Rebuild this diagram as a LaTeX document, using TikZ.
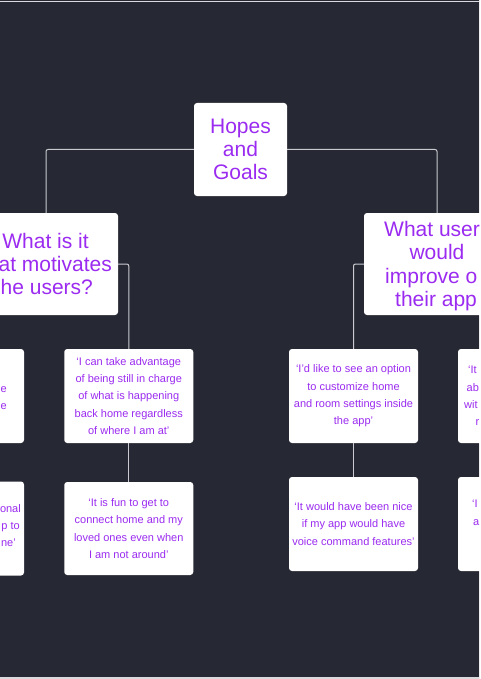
\documentclass[tikz,border=0pt]{standalone}
\usepackage{fontspec}
\setmainfont{Liberation Sans}
\usetikzlibrary{positioning}
\definecolor{bgdark}{HTML}{262833}
\definecolor{pur}{HTML}{9B2BF0}
\definecolor{linegray}{HTML}{CACAD0}
\begin{document}
\begin{tikzpicture}[x=1pt, y=-1pt,
  card/.style={fill=white, rounded corners=3pt, inner sep=0pt, align=center, text=pur},
  head/.style={card, font=\fontsize{21}{23}\selectfont},
  quote/.style={card, minimum width=129pt, minimum height=94pt, font=\fontsize{11}{17.3}\selectfont},
  bigfrag/.style={inner sep=0pt, text=pur, font=\fontsize{21}{23}\selectfont},
  frag/.style={inner sep=0pt, text=pur, font=\fontsize{11}{17.3}\selectfont},
  conn/.style={draw=linegray, line width=1pt, rounded corners=2pt}
]
\clip (0,0) rectangle (480,679);
\fill[bgdark] (0,0) rectangle (480,679);
\fill[linegray!70] (0,1.5) rectangle (480,2.5);
\fill[linegray!70] (0,676.5) rectangle (480,679);
\fill[linegray!35] (479.2,0) rectangle (480,679);
% ---- top ----
\node[head, minimum width=93pt, minimum height=93pt] (hopes) at (240.5,149.5) {Hopes\\and\\Goals};
% ---- questions (cut by the edges) ----
\node[head, minimum width=144pt, minimum height=102pt] (motiv) at (46,264) {};
\node[head, minimum width=146pt, minimum height=102pt] (improve) at (437,264) {};
\node[bigfrag, anchor=base] at (45.5,248.5) {What is it};
\node[bigfrag, anchor=base east] at (112,271.5) {at motivates};
\node[bigfrag, anchor=base west] at (0.5,294.5) {he users?};
\node[bigfrag, anchor=base west] at (384,236.5) {What user};
\node[bigfrag, anchor=base] at (437,259.5) {would};
\node[bigfrag, anchor=base west] at (385,283) {improve o};
\node[bigfrag, anchor=base west] at (395,306.5) {their app};
% ---- quotes, left ----
\node[quote] (lup) at (-40.5,396) {};
\node[quote] (llow) at (-40.5,528.5) {};
\node[quote] (adv) at (128.75,396) {‘I can take advantage\\of being still in charge\\of what is happening\\back home regardless\\of where I am at’};
\node[quote, minimum height=93pt] (fun) at (128.75,528.5) {‘It is fun to get to\\connect home and my\\loved ones even when\\I am not around’};
% ---- quotes, right ----
\node[quote] (custom) at (353.5,396) {‘I’d like to see an option\\to customize home\\and room settings inside\\the app’};
\node[quote] (voice) at (353.5,524) {‘It would have been nice\\if my app would have\\voice command features’};
\node[quote] (rup) at (522.5,396) {};
\node[quote] (rlow) at (522.5,524) {};
% cut-off text at the edges
\foreach \x/\y/\t in {7/392/e, 7/409/e, 21/512/onal, 20/529/p to, 16/546/ne’}
  \node[frag, anchor=base east] at (\x,\y) {\t};
\foreach \x/\y/\t in {468/373/‘It, 466.5/391/ab, 464/408/wit, 475.5/425/r, 472/507/‘I, 473/525/a}
  \node[frag, anchor=base west] at (\x,\y) {\t};
% ---- connectors ----
\draw[conn] (hopes.west) -| (motiv.north);
\draw[conn] (hopes.east) -| (improve.north);
\draw[conn] (motiv.east) -| (adv.north);
\draw[conn] (adv.south) -- (fun.north);
\draw[conn] (improve.west) -| (custom.north);
\draw[conn] (custom.south) -- (voice.north);
\end{tikzpicture}
\end{document}
